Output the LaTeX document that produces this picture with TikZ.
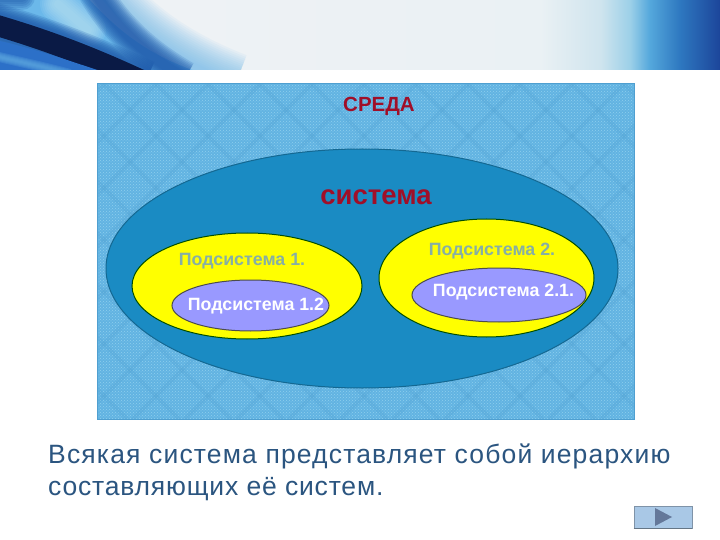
\documentclass[tikz,border=0pt]{standalone}
\usepackage{fontspec}
\setmainfont{Liberation Sans}
\newfontfamily\capfonta[LetterSpace=4.4]{Liberation Sans}
\newfontfamily\capfontb[LetterSpace=3.1]{Liberation Sans}
\usetikzlibrary{shapes.geometric,patterns}
\definecolor{envblue}{HTML}{62B3E2}
\definecolor{envline}{HTML}{4F9FD0}
\definecolor{envdot}{HTML}{8FD0EE}
\definecolor{sysblue}{HTML}{1A8BC3}
\definecolor{subyellow}{HTML}{FFFF00}
\definecolor{subviolet}{HTML}{9999FF}
\definecolor{darkred}{HTML}{A00F28}
\definecolor{subgrey}{HTML}{86AFA5}
\definecolor{captext}{HTML}{2B5580}
\definecolor{btnfill}{HTML}{A9C8E6}
\definecolor{btnedge}{HTML}{7F93A8}
\definecolor{btnarrow}{HTML}{64789A}
\definecolor{navy}{HTML}{0A1A45}
\definecolor{bandblue}{HTML}{1A55A8}
\definecolor{skyblue}{HTML}{6BB8EA}
\definecolor{paleblue}{HTML}{BFE6F5}
\definecolor{lowblue}{HTML}{2C70C8}
\definecolor{streak}{HTML}{5FA8E0}
\definecolor{hA}{HTML}{F0F2F5}
\definecolor{hB}{HTML}{EAF1F4}
\definecolor{hC}{HTML}{CFE4EE}
\definecolor{hD}{HTML}{9CD0E8}
\definecolor{hE}{HTML}{55A8DC}
\definecolor{hF}{HTML}{2E78C0}
\definecolor{hG}{HTML}{1C459A}
\pgfdeclarehorizontalshading{hdrshade}{100bp}{
  color(0bp)=(hA); color(25bp)=(hA); color(62.5bp)=(hB); color(66.7bp)=(hC);
  color(68.75bp)=(hD); color(70.1bp)=(hE); color(72.2bp)=(hF); color(75bp)=(hG); color(100bp)=(hG)}
\tikzset{
  x=1pt,y=-1pt,
  region/.style={ellipse,draw=#1,line width=1pt,inner sep=0pt},
  lab/.style={font=\bfseries\fontsize{#1}{#1}\selectfont,inner sep=0pt},
  capa/.style={font=\capfonta\fontsize{26.5}{26.5}\selectfont,text=captext,anchor=base west,inner sep=0pt},
  capb/.style={font=\capfontb\fontsize{26.5}{26.5}\selectfont,text=captext,anchor=base west,inner sep=0pt}
}
\begin{document}
\begin{tikzpicture}
\useasboundingbox (0,0) rectangle (720,540);
\fill[white] (0,0) rectangle (720,540);
% header
\begin{scope}
\clip (0,0) rectangle (720,70);
\shade[shading=hdrshade] (0,0) rectangle (720,70);
% soft edge of the swoosh
\foreach \w in {64,60,...,8}{
  \draw[skyblue,line width=\w pt,opacity=.07] (100,-10) .. controls (125,25) and (170,60) .. (235,85);
}
\fill[skyblue] (0,-2) -- (88,-2) .. controls (115,28) and (150,58) .. (205,74) -- (0,74) -- cycle;
\foreach \w in {36,32,...,8}{
  \draw[paleblue,line width=\w pt,opacity=.12,line cap=round] (58,4) -- (88,30);
}
\foreach \w in {26,22,...,6}{
  \draw[bandblue,line width=\w pt,opacity=.18,line cap=round] (-6,-3) -- (22,-3);
}
\foreach \w in {34,31,...,10}{
  \draw[bandblue,line width=\w pt,opacity=.16] (95,-8) .. controls (112,22) and (140,52) .. (185,78);
}
\foreach \w in {44,41,...,26}{
  \draw[bandblue,line width=\w pt,opacity=.2] (-8,24) .. controls (40,38) and (85,54) .. (145,82);
}
\draw[navy,line width=21pt] (-8,24) .. controls (40,38) and (85,54) .. (145,82);
\fill[lowblue] (0,41) .. controls (40,50) and (75,63) .. (110,74) -- (0,74) -- cycle;
\foreach \w in {10,8,...,2}{
  \draw[streak,line width=\w pt,opacity=.25] (-5,56) .. controls (20,62) and (40,66) .. (70,74);
}
\end{scope}
% environment
\fill[envblue] (97,84) rectangle (634,419);
\begin{scope}
\clip (97,84) rectangle (634,419);
\fill[pattern=crosshatch dots,pattern color=envdot] (97,84) rectangle (634,419);
\foreach \k in {-8,...,20}{
  \draw[envline,line width=4pt,opacity=.22] ({\k*52},84) -- ({\k*52+335},419);
  \draw[envline,line width=4pt,opacity=.22] ({\k*52},84) -- ({\k*52-335},419);
}
\end{scope}
\draw[envline,line width=1pt] (97,84) rectangle (634,419);
% regions
\node[region=sysblue!75!black,fill=sysblue,minimum width=512pt,minimum height=239pt] (sys) at (362,268.5) {};
\node[region=green!30!black,fill=subyellow,minimum width=230pt,minimum height=106pt] (sub1) at (247,286) {};
\node[region=green!30!black,fill=subyellow,minimum width=215pt,minimum height=118pt] (sub2) at (486.5,278) {};
\node[region=black!70,fill=subviolet,minimum width=157pt,minimum height=51pt] (sub12) at (250.5,305.5) {};
\node[region=black!70,fill=subviolet,minimum width=174pt,minimum height=54pt] (sub21) at (499,295) {};
% labels
\node[lab=20.5,text=darkred] (env) at (379,106) {СРЕДА};
\node[lab=27.5,text=darkred] (syslab) at (376,197) {система};
\node[lab=17.8,text=subgrey] (l1) at (242,261) {Подсистема 1.};
\node[lab=17.8,text=subgrey] (l2) at (492,251) {Подсистема 2.};
\node[lab=17.8,text=white] (l12) at (256,306) {Подсистема 1.2};
\node[lab=17.8,text=white] (l21) at (503.5,292) {Подсистема 2.1.};
% caption
\node[capa] (c1) at (48,463) {Всякая система представляет собой иерархию};
\node[capb] (c2) at (48,495) {составляющих её систем.};
% button
\node[rectangle,draw=btnedge,fill=btnfill,line width=0.8pt,minimum width=58pt,minimum height=22pt,inner sep=0pt] (btn) at (663,517) {};
\draw[btnedge!80!black,line width=1.2pt] (btn.south west) -- (btn.south east);
\fill[btnarrow] (655,508) -- (672,517) -- (655,526) -- cycle;
\end{tikzpicture}
\end{document}
